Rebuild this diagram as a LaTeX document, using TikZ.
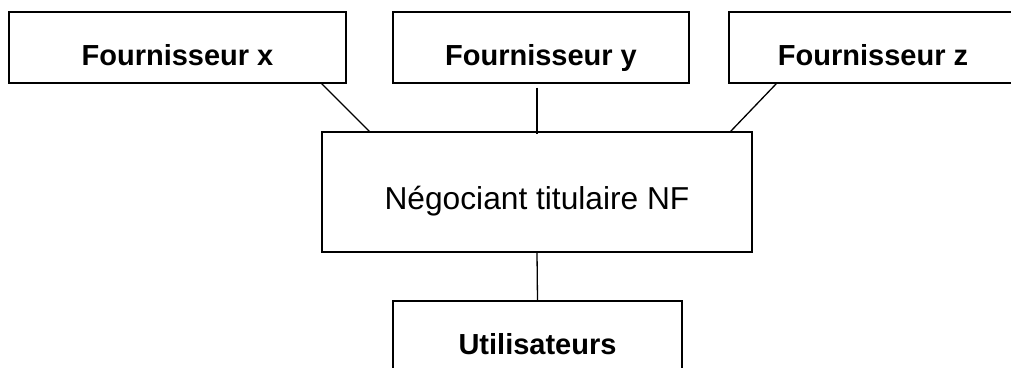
\documentclass[tikz,border=0pt]{standalone}
\usepackage{fontspec}
\setmainfont{Liberation Sans}
\usepackage{tikz}
\usetikzlibrary{calc}

\begin{document}
\begin{tikzpicture}[x=1pt, y=-1pt, line width=1.3pt,
    box/.style={draw, inner sep=0pt, minimum height=71pt, text height=35pt, text depth=0pt,
        font=\fontsize{29}{34}\selectfont\bfseries},
    every node/.style={anchor=center}]

    \useasboundingbox (0,0) rectangle (1011,367);
    \clip (0,0) rectangle (1011,367);

    % suppliers
    \node[box, minimum width=337pt] (fx) at (177.5,47.5) {Fournisseur x};
    \node[box, minimum width=296pt] (fy) at (541,47.5) {Fournisseur y};
    \node[box, minimum width=288pt] (fz) at (873,47.5) {Fournisseur z};

    \node[draw, inner sep=0pt, minimum width=430pt, minimum height=120pt, text height=34pt, text depth=0pt,
        font=\fontsize{31.7}{36}\selectfont] (neg) at (537,192) {Négociant titulaire NF};

    \node[box, minimum width=289pt] (util) at (537.5,336.5) {Utilisateurs};

    \draw ($(fx.south east)+(-25,0)$) -- ($(neg.north west)+(48,0)$);
    \draw ([yshift=-4pt]fy.south -| neg.north) -- ([yshift=-3pt]neg.north);
    \draw ($(fz.south west)+(48,0)$) -- ($(neg.north east)+(-22,0)$);
    \draw (neg.south) -- (util.north);

\end{tikzpicture}
\end{document}
